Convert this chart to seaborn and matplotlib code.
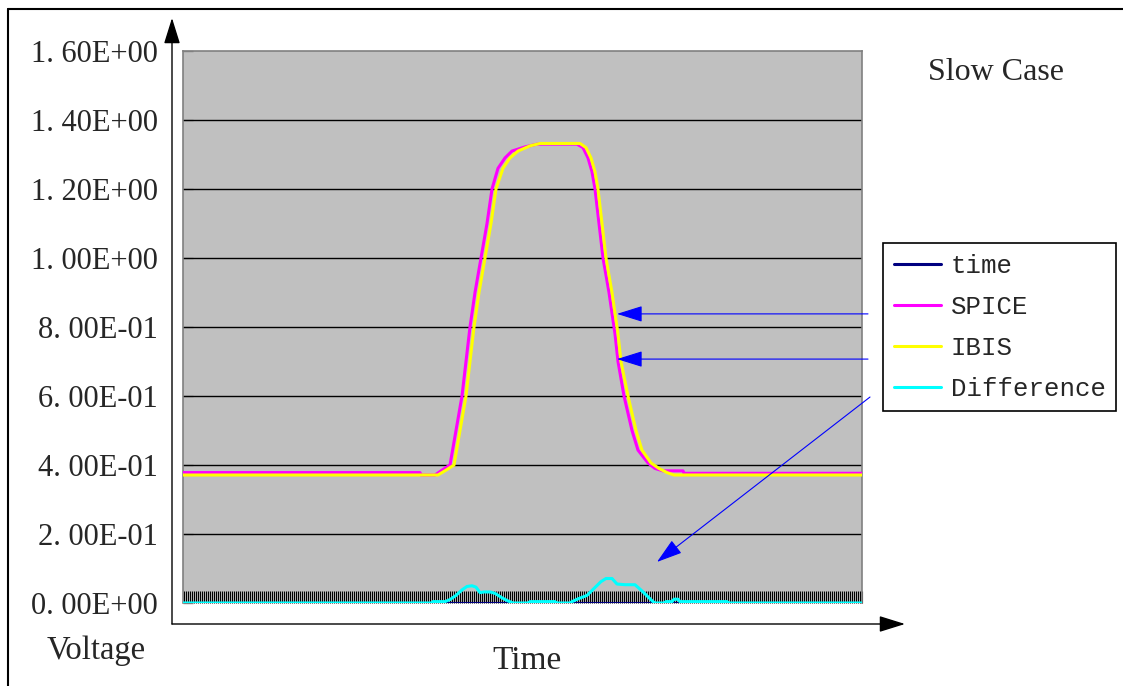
import numpy as np
import matplotlib
matplotlib.use("Agg")
import matplotlib.pyplot as plt
import seaborn as sns
from matplotlib.lines import Line2D
from matplotlib.ticker import FuncFormatter
from matplotlib.font_manager import FontProperties

# sample positions along the time axis and voltages
time_t = [0, 679]
time_v = [0.0, 0.0]

spice_t = [0, 237, 238, 252, 259, 267, 273, 279, 283, 287, 292, 298, 304, 309, 315,
           322, 329, 342, 354, 394, 400, 405, 409, 412, 416, 420, 426, 430, 432, 435,
           441, 449, 455, 465, 472, 480, 500, 501, 679]
spice_v = [0.378, 0.378, 0.371, 0.371, 0.385, 0.40, 0.50, 0.60, 0.70, 0.80, 0.90, 1.00,
           1.10, 1.20, 1.26, 1.29, 1.31, 1.322, 1.330, 1.330, 1.32, 1.29, 1.25, 1.20,
           1.10, 1.00, 0.90, 0.82, 0.78, 0.70, 0.60, 0.50, 0.443, 0.406, 0.390, 0.383,
           0.383, 0.376, 0.376]

ibis_t = [0, 255, 263, 271, 277, 283, 287, 291, 296, 302, 308, 313, 320, 327, 335, 347,
          357, 397, 403, 408, 412, 415, 419, 423, 429, 433, 435, 438, 445, 453, 459, 468,
          476, 484, 491, 679]
ibis_v = [0.371, 0.371, 0.385, 0.40, 0.50, 0.60, 0.70, 0.80, 0.90, 1.00, 1.10, 1.20,
          1.26, 1.29, 1.31, 1.325, 1.332, 1.332, 1.32, 1.29, 1.25, 1.20, 1.10, 1.00,
          0.90, 0.82, 0.78, 0.70, 0.60, 0.50, 0.443, 0.406, 0.390, 0.378, 0.371, 0.371]

diff_t = [0, 249, 250, 262, 267, 273, 279, 284, 289, 293, 297, 301, 307, 312, 319, 325,
          330, 345, 347, 372, 374, 387, 389, 395, 404, 412, 418, 423, 429, 434, 442, 452,
          459, 465, 470, 472, 481, 483, 489, 491, 495, 497, 544, 546, 679]
diff_v = [0, 0, 0.004, 0.004, 0.010, 0.022, 0.038, 0.048, 0.050, 0.046, 0.030, 0.032,
          0.032, 0.028, 0.015, 0.006, 0, 0, 0.004, 0.004, 0, 0, 0.004, 0.012, 0.022,
          0.045, 0.062, 0.071, 0.071, 0.055, 0.053, 0.053, 0.035, 0.018, 0.004, 0, 0,
          0.004, 0.004, 0.011, 0.011, 0.004, 0.004, 0, 0]

y_ticks = [0.0, 0.2, 0.4, 0.6, 0.8, 1.0, 1.2, 1.4, 1.6]

sns.set_style("white")
plt.rcParams["font.family"] = ["Liberation Serif", "DejaVu Serif"]

W, H = 1123, 686
fig = plt.figure(figsize=(W / 100, H / 100), dpi=100)
ax = fig.add_axes([183 / W, 83 / H, 679 / W, 552 / H])
ax.set_facecolor("#c0c0c0")

#draw the four series
sns.lineplot(x=time_t, y=time_v, color="#000080", lw=2.2, label="time", ax=ax, zorder=3)
sns.lineplot(x=spice_t, y=spice_v, color="#ff00ff", lw=2.2, label="SPICE", ax=ax, zorder=3)
sns.lineplot(x=ibis_t, y=ibis_v, color="#ffff00", lw=2.2, label="IBIS", ax=ax, zorder=3)
sns.lineplot(x=diff_t, y=diff_v, color="#00ffff", lw=2.2, label="Difference", ax=ax, zorder=3)

handles, labels = ax.get_legend_handles_labels()
ax.get_legend().remove()

ax.set_xlim(0, 679)
ax.set_ylim(0, 1.6)
ax.set_xlabel("")
ax.set_ylabel("")

#gridlines
for y in y_ticks[1:-1]:
    ax.axhline(y, color="black", lw=1.0, zorder=1)

ax.set_yticks(y_ticks)
ax.yaxis.set_major_formatter(FuncFormatter(lambda v, p: ("%.2E" % v).replace(".", ". ")))
ax.tick_params(axis="y", left=True, direction="in", length=7, width=1, color="#808080",
               labelsize=22, pad=18)

#dense category ticks along the bottom
ax.set_xticks(np.arange(1, 680, 2))
ax.tick_params(axis="x", bottom=True, direction="in", length=8.5, width=0.8,
               color="black", labelbottom=False)

for side in ["left", "right", "top"]:
    ax.spines[side].set_color("#808080")
    ax.spines[side].set_linewidth(1.2)
ax.spines["bottom"].set_visible(False)

#blue pointer arrows
blue = dict(arrowstyle="-|>,head_length=0.8,head_width=0.25", color="#0000ff",
            lw=0.8, mutation_scale=20, shrinkA=0, shrinkB=0)
ax.annotate("", xy=(434, 0.838), xytext=(685, 0.838), arrowprops=blue, annotation_clip=False)
ax.annotate("", xy=(434, 0.707), xytext=(685, 0.707), arrowprops=blue, annotation_clip=False)
ax.annotate("", xy=(474, 0.119), xytext=(687, 0.597), arrowprops=blue, annotation_clip=False)

#axis arrows
black = dict(arrowstyle="-|>,head_length=0.8,head_width=0.25", color="black",
             lw=1, mutation_scale=20, shrinkA=0, shrinkB=0)
ax.annotate("", xy=(172 / W, 1 - 18 / H), xycoords="figure fraction",
            xytext=(172 / W, 1 - 624 / H), textcoords="figure fraction", arrowprops=black)
ax.annotate("", xy=(905 / W, 1 - 624 / H), xycoords="figure fraction",
            xytext=(172 / W, 1 - 624 / H), textcoords="figure fraction", arrowprops=black)

leg = fig.legend(handles, labels, loc="upper left", bbox_to_anchor=(883 / W, 1 - 243 / H),
                 prop=FontProperties(family="Liberation Mono", size=18.5), frameon=True,
                 fancybox=False, edgecolor="black", framealpha=1, handlelength=1.85,
                 handletextpad=0.36, labelspacing=0.66, borderpad=0.42, borderaxespad=0)
leg.get_frame().set_linewidth(1.2)

fig.text(928 / W, 1 - 72 / H, "Slow Case", fontsize=23, ha="left", va="center")
fig.text(96 / W, 1 - 651 / H, "Voltage", fontsize=23.5, ha="center", va="center")
fig.text(527 / W, 1 - 661 / H, "Time", fontsize=24, ha="center", va="center")

#outer frame, top and left only
fig.add_artist(Line2D([8 / W, 1], [1 - 9 / H] * 2, color="black", lw=1.5, transform=fig.transFigure))
fig.add_artist(Line2D([8 / W] * 2, [0, 1 - 9 / H], color="black", lw=1.5, transform=fig.transFigure))

fig.savefig("out.png", dpi=100)
